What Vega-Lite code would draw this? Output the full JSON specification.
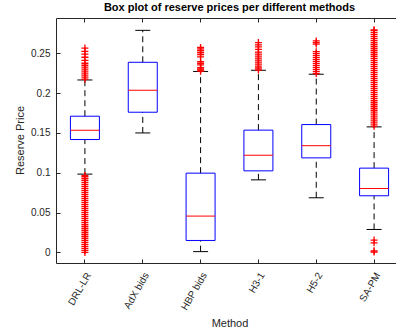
{
  "$schema": "https://vega.github.io/schema/vega-lite/v6.json",
  "width": 340,
  "height": 245,
  "autosize": {"type": "none"},
  "padding": {"left": 56, "top": 18, "right": 0, "bottom": 70},
  "background": "white",
  "config": {
    "view": {"stroke": null},
    "font": "Liberation Sans",
    "axis": {"domainColor": "#262626", "tickColor": "#262626", "labelColor": "#262626", "titleColor": "#262626", "labelFontSize": 10, "titleFontSize": 11, "titleFontWeight": "normal", "grid": false, "domainWidth": 1, "tickWidth": 1},
    "axisY": {"title": "Reserve Price", "values": [0, 0.05, 0.1, 0.15, 0.2, 0.25], "format": "~g", "tickSize": -4, "labelPadding": 10, "titleX": -36, "titleY": 122, "titleBaseline": "middle", "titleFontWeight": "normal"}
  },
  "title": {"text": "Box plot of reserve prices per different methods", "fontSize": 11, "fontWeight": "bold", "color": "#000000", "anchor": "middle", "dx": 3.5, "offset": 5},
  "datasets": {
    "boxes": [
      {"m": "DRL-LR", "lo": 0.0983, "q1": 0.1417, "med": 0.1535, "q3": 0.171, "hi": 0.2165},
      {"m": "AdX bids", "lo": 0.150, "q1": 0.176, "med": 0.2036, "q3": 0.2387, "hi": 0.2788},
      {"m": "HBP bids", "lo": 0.001, "q1": 0.015, "med": 0.0456, "q3": 0.0995, "hi": 0.2272},
      {"m": "H3-1", "lo": 0.0911, "q1": 0.1024, "med": 0.122, "q3": 0.1535, "hi": 0.2287},
      {"m": "H5-2", "lo": 0.0686, "q1": 0.1187, "med": 0.134, "q3": 0.1605, "hi": 0.2237},
      {"m": "SA-PM", "lo": 0.0288, "q1": 0.0711, "med": 0.0802, "q3": 0.1058, "hi": 0.1576}
    ],
    "outliers": [
      {"m": "DRL-LR", "v": 0.2175}, {"m": "DRL-LR", "v": 0.22}, {"m": "DRL-LR", "v": 0.2225}, {"m": "DRL-LR", "v": 0.225}, {"m": "DRL-LR", "v": 0.2275}, {"m": "DRL-LR", "v": 0.23}, {"m": "DRL-LR", "v": 0.2325}, {"m": "DRL-LR", "v": 0.235}, {"m": "DRL-LR", "v": 0.2375}, {"m": "DRL-LR", "v": 0.241}, {"m": "DRL-LR", "v": 0.245}, {"m": "DRL-LR", "v": 0.249}, {"m": "DRL-LR", "v": 0.2525}, {"m": "DRL-LR", "v": 0.2565},
      {"m": "DRL-LR", "v": 0}, {"m": "DRL-LR", "v": 0.0025}, {"m": "DRL-LR", "v": 0.005}, {"m": "DRL-LR", "v": 0.0075}, {"m": "DRL-LR", "v": 0.01}, {"m": "DRL-LR", "v": 0.0125}, {"m": "DRL-LR", "v": 0.015}, {"m": "DRL-LR", "v": 0.0175}, {"m": "DRL-LR", "v": 0.02}, {"m": "DRL-LR", "v": 0.0225}, {"m": "DRL-LR", "v": 0.025}, {"m": "DRL-LR", "v": 0.0275}, {"m": "DRL-LR", "v": 0.03}, {"m": "DRL-LR", "v": 0.0325}, {"m": "DRL-LR", "v": 0.035}, {"m": "DRL-LR", "v": 0.0375}, {"m": "DRL-LR", "v": 0.04}, {"m": "DRL-LR", "v": 0.0425}, {"m": "DRL-LR", "v": 0.045}, {"m": "DRL-LR", "v": 0.0475}, {"m": "DRL-LR", "v": 0.05}, {"m": "DRL-LR", "v": 0.0525}, {"m": "DRL-LR", "v": 0.055}, {"m": "DRL-LR", "v": 0.0575}, {"m": "DRL-LR", "v": 0.06}, {"m": "DRL-LR", "v": 0.0625}, {"m": "DRL-LR", "v": 0.065}, {"m": "DRL-LR", "v": 0.0675}, {"m": "DRL-LR", "v": 0.07}, {"m": "DRL-LR", "v": 0.0725}, {"m": "DRL-LR", "v": 0.075}, {"m": "DRL-LR", "v": 0.0775}, {"m": "DRL-LR", "v": 0.08}, {"m": "DRL-LR", "v": 0.0825}, {"m": "DRL-LR", "v": 0.085}, {"m": "DRL-LR", "v": 0.0875}, {"m": "DRL-LR", "v": 0.09}, {"m": "DRL-LR", "v": 0.0925}, {"m": "DRL-LR", "v": 0.095}, {"m": "DRL-LR", "v": 0.0965},
      {"m": "HBP bids", "v": 0.2275}, {"m": "HBP bids", "v": 0.229}, {"m": "HBP bids", "v": 0.2305}, {"m": "HBP bids", "v": 0.232}, {"m": "HBP bids", "v": 0.2355}, {"m": "HBP bids", "v": 0.2375}, {"m": "HBP bids", "v": 0.2395}, {"m": "HBP bids", "v": 0.2455}, {"m": "HBP bids", "v": 0.2485}, {"m": "HBP bids", "v": 0.251}, {"m": "HBP bids", "v": 0.2535}, {"m": "HBP bids", "v": 0.2555}, {"m": "HBP bids", "v": 0.2573},
      {"m": "H3-1", "v": 0.229}, {"m": "H3-1", "v": 0.2315}, {"m": "H3-1", "v": 0.234}, {"m": "H3-1", "v": 0.2365}, {"m": "H3-1", "v": 0.239}, {"m": "H3-1", "v": 0.2415}, {"m": "H3-1", "v": 0.244}, {"m": "H3-1", "v": 0.2465}, {"m": "H3-1", "v": 0.249}, {"m": "H3-1", "v": 0.2515}, {"m": "H3-1", "v": 0.255}, {"m": "H3-1", "v": 0.258}, {"m": "H3-1", "v": 0.2605}, {"m": "H3-1", "v": 0.2635},
      {"m": "H5-2", "v": 0.2245}, {"m": "H5-2", "v": 0.227}, {"m": "H5-2", "v": 0.2295}, {"m": "H5-2", "v": 0.232}, {"m": "H5-2", "v": 0.2345}, {"m": "H5-2", "v": 0.237}, {"m": "H5-2", "v": 0.2395}, {"m": "H5-2", "v": 0.242}, {"m": "H5-2", "v": 0.2445}, {"m": "H5-2", "v": 0.247}, {"m": "H5-2", "v": 0.2495}, {"m": "H5-2", "v": 0.252}, {"m": "H5-2", "v": 0.2615}, {"m": "H5-2", "v": 0.2635}, {"m": "H5-2", "v": 0.2655},
      {"m": "SA-PM", "v": 0.1585}, {"m": "SA-PM", "v": 0.161}, {"m": "SA-PM", "v": 0.1635}, {"m": "SA-PM", "v": 0.166}, {"m": "SA-PM", "v": 0.1685}, {"m": "SA-PM", "v": 0.171}, {"m": "SA-PM", "v": 0.1735}, {"m": "SA-PM", "v": 0.176}, {"m": "SA-PM", "v": 0.1785}, {"m": "SA-PM", "v": 0.181}, {"m": "SA-PM", "v": 0.1835}, {"m": "SA-PM", "v": 0.186}, {"m": "SA-PM", "v": 0.1885}, {"m": "SA-PM", "v": 0.191}, {"m": "SA-PM", "v": 0.1935}, {"m": "SA-PM", "v": 0.196}, {"m": "SA-PM", "v": 0.1985}, {"m": "SA-PM", "v": 0.201}, {"m": "SA-PM", "v": 0.2035}, {"m": "SA-PM", "v": 0.206}, {"m": "SA-PM", "v": 0.2085}, {"m": "SA-PM", "v": 0.211}, {"m": "SA-PM", "v": 0.2135}, {"m": "SA-PM", "v": 0.216}, {"m": "SA-PM", "v": 0.2185}, {"m": "SA-PM", "v": 0.221}, {"m": "SA-PM", "v": 0.2235}, {"m": "SA-PM", "v": 0.226}, {"m": "SA-PM", "v": 0.2285}, {"m": "SA-PM", "v": 0.231}, {"m": "SA-PM", "v": 0.2335}, {"m": "SA-PM", "v": 0.236}, {"m": "SA-PM", "v": 0.2385}, {"m": "SA-PM", "v": 0.241}, {"m": "SA-PM", "v": 0.2435}, {"m": "SA-PM", "v": 0.246}, {"m": "SA-PM", "v": 0.2485}, {"m": "SA-PM", "v": 0.251}, {"m": "SA-PM", "v": 0.2535}, {"m": "SA-PM", "v": 0.256}, {"m": "SA-PM", "v": 0.2585}, {"m": "SA-PM", "v": 0.261}, {"m": "SA-PM", "v": 0.2635}, {"m": "SA-PM", "v": 0.266}, {"m": "SA-PM", "v": 0.2685}, {"m": "SA-PM", "v": 0.271}, {"m": "SA-PM", "v": 0.2735}, {"m": "SA-PM", "v": 0.276}, {"m": "SA-PM", "v": 0.2785}, {"m": "SA-PM", "v": 0.2795},
      {"m": "SA-PM", "v": 0.0155}, {"m": "SA-PM", "v": 0.012}, {"m": "SA-PM", "v": 0.002}, {"m": "SA-PM", "v": 0.0005}
    ]
  },
  "resolve": {"axis": {"x": "independent"}},
  "layer": [
    {
      "data": {"name": "boxes"},
      "mark": {"type": "rule", "color": "#000000", "strokeWidth": 1, "strokeDash": [6, 4]},
      "encoding": {
        "x": {"field": "m", "type": "nominal",
          "sort": ["DRL-LR", "AdX bids", "HBP bids", "H3-1", "H5-2", "SA-PM"],
          "scale": {"range": [0, 347], "paddingInner": 0, "paddingOuter": 0},
          "axis": {"orient": "bottom", "title": "Method", "titleFontWeight": "normal", "labelFontWeight": "normal", "labelAngle": -60, "labelAlign": "right", "labelBaseline": "middle", "labelPadding": 14, "labelOffset": 4, "tickSize": -4, "titleY": 63, "titleBaseline": "alphabetic"}},
        "y": {"field": "q3", "type": "quantitative", "title": "Reserve Price", "scale": {"domain": [-0.0133, 0.2943], "nice": false, "zero": false}},
        "y2": {"field": "hi"}
      }
    },
    {
      "data": {"name": "boxes"},
      "mark": {"type": "rule", "color": "#000000", "strokeWidth": 1, "strokeDash": [6, 4]},
      "encoding": {
        "x": {"field": "m", "type": "nominal", "sort": ["DRL-LR", "AdX bids", "HBP bids", "H3-1", "H5-2", "SA-PM"], "axis": null},
        "y": {"field": "lo", "type": "quantitative", "title": "Reserve Price", "scale": {"domain": [-0.0133, 0.2943], "nice": false, "zero": false}},
        "y2": {"field": "q1"}
      }
    },
    {
      "data": {"name": "boxes"},
      "mark": {"type": "tick", "color": "#000000", "size": 15, "thickness": 1, "opacity": 1},
      "encoding": {
        "x": {"field": "m", "type": "nominal", "sort": ["DRL-LR", "AdX bids", "HBP bids", "H3-1", "H5-2", "SA-PM"], "axis": null},
        "y": {"field": "hi", "type": "quantitative", "title": "Reserve Price", "scale": {"domain": [-0.0133, 0.2943], "nice": false, "zero": false}}
      }
    },
    {
      "data": {"name": "boxes"},
      "mark": {"type": "tick", "color": "#000000", "size": 15, "thickness": 1, "opacity": 1},
      "encoding": {
        "x": {"field": "m", "type": "nominal", "sort": ["DRL-LR", "AdX bids", "HBP bids", "H3-1", "H5-2", "SA-PM"], "axis": null},
        "y": {"field": "lo", "type": "quantitative", "title": "Reserve Price", "scale": {"domain": [-0.0133, 0.2943], "nice": false, "zero": false}}
      }
    },
    {
      "data": {"name": "boxes"},
      "mark": {"type": "bar", "width": 29, "fill": "white", "fillOpacity": 0, "stroke": "#0000ff", "strokeWidth": 1},
      "encoding": {
        "x": {"field": "m", "type": "nominal", "sort": ["DRL-LR", "AdX bids", "HBP bids", "H3-1", "H5-2", "SA-PM"], "axis": null},
        "y": {"field": "q1", "type": "quantitative", "title": "Reserve Price", "scale": {"domain": [-0.0133, 0.2943], "nice": false, "zero": false}},
        "y2": {"field": "q3"}
      }
    },
    {
      "data": {"name": "boxes"},
      "mark": {"type": "tick", "color": "#ff0000", "size": 29, "thickness": 1, "opacity": 1},
      "encoding": {
        "x": {"field": "m", "type": "nominal", "sort": ["DRL-LR", "AdX bids", "HBP bids", "H3-1", "H5-2", "SA-PM"], "axis": null},
        "y": {"field": "med", "type": "quantitative", "title": "Reserve Price", "scale": {"domain": [-0.0133, 0.2943], "nice": false, "zero": false}}
      }
    },
    {
      "data": {"name": "outliers"},
      "mark": {"type": "point", "shape": "M-1,0L1,0M0,-1L0,1", "filled": false, "stroke": "#ff0000", "strokeWidth": 1.3, "size": 49, "opacity": 1},
      "encoding": {
        "x": {"field": "m", "type": "nominal", "sort": ["DRL-LR", "AdX bids", "HBP bids", "H3-1", "H5-2", "SA-PM"], "axis": null},
        "y": {"field": "v", "type": "quantitative", "title": "Reserve Price", "scale": {"domain": [-0.0133, 0.2943], "nice": false, "zero": false}}
      }
    },
    {
      "data": {"name": "boxes"},
      "mark": {"type": "tick", "opacity": 0},
      "encoding": {
        "x": {"field": "m", "type": "nominal",
          "sort": ["DRL-LR", "AdX bids", "HBP bids", "H3-1", "H5-2", "SA-PM"],
          "axis": {"orient": "top", "title": null, "labels": false, "tickSize": -4}},
        "y": {"field": "med", "type": "quantitative", "title": "Reserve Price", "scale": {"domain": [-0.0133, 0.2943], "nice": false, "zero": false}}
      }
    }
  ]
}
